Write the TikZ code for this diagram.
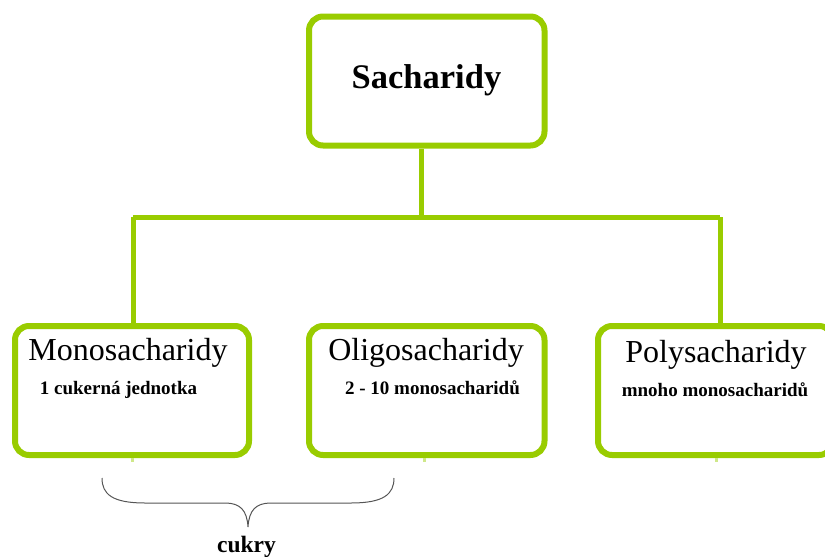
\documentclass[tikz,border=0pt]{standalone}
\usepackage{fontspec}
\setmainfont{Liberation Serif}
\definecolor{lime}{HTML}{99CC00}
\definecolor{limelight}{HTML}{CFE88A}
\definecolor{bracegray}{HTML}{555555}
\tikzset{
  box/.style={draw=lime, line width=6pt, rounded corners=14pt, fill=white,
    minimum height=129pt, inner sep=0pt},
  conn/.style={draw=lime, line width=5pt},
  stub/.style={draw=limelight, line width=3pt},
  title/.style={font=\fontsize{32}{32}\selectfont, inner sep=0pt, anchor=base},
  sub/.style={font=\fontsize{19}{19}\selectfont\bfseries, inner sep=0pt, anchor=base},
}
\begin{document}
\begin{tikzpicture}[x=1pt,y=-1pt]
\useasboundingbox (0,0) rectangle (825,557);
\clip (0,0) rectangle (825,557);
% connectors (behind boxes)
\coordinate (jt) at (421,217);
\coordinate (jm) at (133,217);
\coordinate (jp) at (720,217);
\node[box, minimum width=235.5pt] (top) at (426.75,81) {};
\node[box, minimum width=234pt] (mono) at (132,390.5) {};
\node[box, minimum width=235.5pt] (oligo) at (426.75,390.5) {};
\node[box, minimum width=235pt] (poly) at (715.5,390.5) {};
\draw[conn] (top.south -| jt) -- (jt);
\draw[conn] (jm) -- (jp);
\draw[conn] (jm) -- (mono.north -| jm);
\draw[conn] (jp) -- (poly.north -| jp);
\coordinate (sm) at (132,462);
\coordinate (so) at (424,462);
\coordinate (sp) at (716,462);
\draw[stub] (mono.south -| sm) -- (sm);
\draw[stub] (oligo.south -| so) -- (so);
\draw[stub] (poly.south -| sp) -- (sp);
% texts
\node[font=\fontsize{34.5}{34.5}\selectfont\bfseries, inner sep=0pt, anchor=base] (tsach) at (426.5,88) {Sacharidy};
\node[title] (tmono) at (128,360) {Monosacharidy};
\node[sub] (smono) at (118.5,394) {1 cukerná jednotka};
\node[title] (toligo) at (426,360) {Oligosacharidy};
\node[sub] (soligo) at (432.5,394) {2 - 10 monosacharidů};
\node[title] (tpoly) at (716,362) {Polysacharidy};
\node[sub] (spoly) at (715,396) {mnoho monosacharidů};
% brace
\coordinate (bl) at (102,478);
\coordinate (br) at (394,478);
\coordinate (bt) at (248,527);
\draw[bracegray, line width=1pt]
  (bl) .. controls (102,494) and (112,503) .. (145,503)
  -- (225,503) .. controls (240,503) and (247,510) .. (bt)
  .. controls (249,510) and (256,503) .. (271,503)
  -- (351,503) .. controls (384,503) and (394,494) .. (br);
\node[font=\fontsize{23.5}{23.5}\selectfont\bfseries, inner sep=0pt, anchor=base] (cukry) at (246.5,552) {cukry};
\end{tikzpicture}
\end{document}
